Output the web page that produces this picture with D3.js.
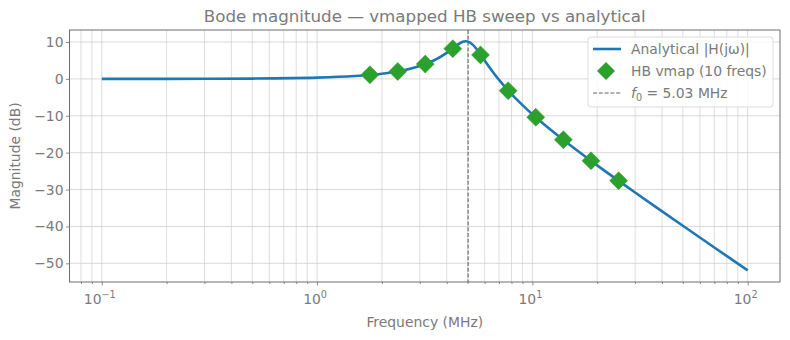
<!DOCTYPE html>
<html><head><meta charset="utf-8">
<script src="https://cdn.jsdelivr.net/npm/d3@7"></script>
<style>body{margin:0;background:#fff;} text{font-family:"DejaVu Sans",sans-serif;}</style>
</head><body><svg id="c" width="790" height="340"></svg>
<script>
// Analytical curve
const lineFreqs = [0.1,0.2,0.5,1,1.5,2,2.5,3,3.5,4,4.25,4.5,4.75,4.9,5.03,5.25,5.5,5.75,6,6.5,7,8,9,10,12,15,20,30,50,70,100];
const lineDb =    [0.0,0.01,0.08,0.33,0.76,1.40,2.28,3.47,5.04,7.06,8.19,9.28,10.05,10.21,10.10,9.42,8.10,6.54,4.98,2.13,-0.28,-4.13,-7.13,-9.59,-13.54,-18.0,-23.44,-30.79,-39.81,-45.70,-51.92];
// HB vmap points
const hbFreqs = [1.76,2.37,3.18,4.27,5.74,7.72,10.37,13.93,18.72,25.15];
const hbDb =    [1.1,2.0,4.0,8.2,6.5,-3.2,-10.4,-16.5,-22.2,-27.6];
const f0 = 5.03;
const xTicks = [0.1,1,10,100];
const xTickExp = ["−1","0","1","2"];
const yTicks = [10,0,-10,-20,-30,-40,-50];
const titleText = "Bode magnitude — vmapped HB sweep vs analytical";
const legendLabels = ["Analytical |H(jω)|","HB vmap (10 freqs)"];

const svg = d3.select("#c");
const L=69.5,R=780,T=30,B=282;
const x = d3.scaleLog().domain([0.0708,141.3]).range([L,R]);
const y = d3.scaleLinear().domain([-55.06,13.25]).range([B,T]);
const gray="#7a7a7a", grid="#cfcfcf", spine="#6e6e6e";
const fs="13.9px";

// minor grid
const minors=[];
for(let e=-2;e<=2;e++) for(let m=2;m<=9;m++){const v=m*Math.pow(10,e); if(v>x.domain()[0]&&v<x.domain()[1]) minors.push(v);}
svg.append("g").selectAll("line").data(minors).join("line")
 .attr("x1",d=>x(d)).attr("x2",d=>x(d)).attr("y1",T).attr("y2",B)
 .attr("stroke","#d6d6d6").attr("stroke-width",0.8);
svg.append("g").selectAll("line").data(xTicks).join("line")
 .attr("x1",d=>x(d)).attr("x2",d=>x(d)).attr("y1",T).attr("y2",B)
 .attr("stroke",grid).attr("stroke-width",0.8);
svg.append("g").selectAll("line").data(yTicks).join("line")
 .attr("x1",L).attr("x2",R).attr("y1",d=>y(d)).attr("y2",d=>y(d))
 .attr("stroke",grid).attr("stroke-width",0.8);

// axes
const xa = svg.append("g").attr("transform",`translate(0,${B})`)
 .call(d3.axisBottom(x).tickValues(xTicks).tickSize(3.5).tickFormat(""));
const xm = svg.append("g").attr("transform",`translate(0,${B})`)
 .call(d3.axisBottom(x).tickValues(minors).tickSize(2).tickFormat(""));
const ya = svg.append("g").attr("transform",`translate(${L},0)`)
 .call(d3.axisLeft(y).tickValues(yTicks).tickSize(3.5).tickFormat(d=>d<0?"−"+(-d):d));
[xa,xm,ya].forEach(g=>{g.select(".domain").remove(); g.selectAll("line").attr("stroke",spine).attr("stroke-width",0.8);});
ya.selectAll("text").attr("fill",gray).attr("font-size",fs).attr("font-family","DejaVu Sans").attr("x",-6);
xTicks.forEach((t,i)=>{
  const tx=svg.append("text").attr("x",x(t)-2).attr("y",B+22).attr("text-anchor","middle").attr("fill",gray).attr("font-size",fs);
  tx.append("tspan").text("10");
  tx.append("tspan").attr("dy",-6).attr("font-size","9.7px").text(xTickExp[i]);
});
svg.append("rect").attr("x",L).attr("y",T).attr("width",R-L).attr("height",B-T)
 .attr("fill","none").attr("stroke",spine).attr("stroke-width",1);

// f0 line
svg.append("line").attr("x1",x(f0)).attr("x2",x(f0)).attr("y1",T).attr("y2",B)
 .attr("stroke","#666").attr("stroke-width",1.1).attr("stroke-dasharray","4,1.8");

// analytical
const pts = lineFreqs.map((f,i)=>[x(f),y(lineDb[i])]);
svg.append("path").attr("d",d3.line().curve(d3.curveCatmullRom)(pts))
 .attr("fill","none").attr("stroke","#1f77b4").attr("stroke-width",2.6);

// HB markers
const dia = s=>`M0,${-s}L${s},0L0,${s}L${-s},0Z`;
svg.append("g").selectAll("path").data(hbFreqs).join("path")
 .attr("transform",(d,i)=>`translate(${x(d)},${y(hbDb[i])})`)
 .attr("d",dia(9)).attr("fill","#2ca02c").attr("stroke","#2ca02c").attr("stroke-width",0.5);

// titles
svg.append("text").attr("x",(L+R)/2).attr("y",22).attr("text-anchor","middle").attr("fill",gray).attr("font-size","16.7px").text(titleText);
svg.append("text").attr("x",(L+R)/2).attr("y",327).attr("text-anchor","middle").attr("fill",gray).attr("font-size",fs).text("Frequency (MHz)");
svg.append("text").attr("transform",`translate(20,${(T+B)/2}) rotate(-90)`).attr("text-anchor","middle").attr("fill",gray).attr("font-size",fs).text("Magnitude (dB)");

// legend
const lg = svg.append("g");
lg.append("rect").attr("x",588).attr("y",37).attr("width",185).attr("height",70).attr("rx",3)
 .attr("fill","white").attr("fill-opacity",0.85).attr("stroke","#ddd");
lg.append("line").attr("x1",593).attr("x2",621).attr("y1",49).attr("y2",49).attr("stroke","#1f77b4").attr("stroke-width",2.6);
lg.append("path").attr("transform","translate(606,71)").attr("d",dia(9)).attr("fill","#2ca02c");
lg.append("line").attr("x1",593).attr("x2",621).attr("y1",93).attr("y2",93).attr("stroke","#666").attr("stroke-width",1.1).attr("stroke-dasharray","4,1.8");
lg.append("text").attr("x",631).attr("y",54).attr("fill",gray).attr("font-size",fs).text(legendLabels[0]);
lg.append("text").attr("x",631).attr("y",76).attr("fill",gray).attr("font-size",fs).text(legendLabels[1]);
const t3=lg.append("text").attr("x",631).attr("y",98).attr("fill",gray).attr("font-size",fs);
t3.append("tspan").attr("font-style","italic").text("f");
t3.append("tspan").attr("font-size","9.7px").attr("dy",3).text("0");
t3.append("tspan").attr("dy",-3).text(" = "+f0.toFixed(2)+" MHz");
</script></body></html>
